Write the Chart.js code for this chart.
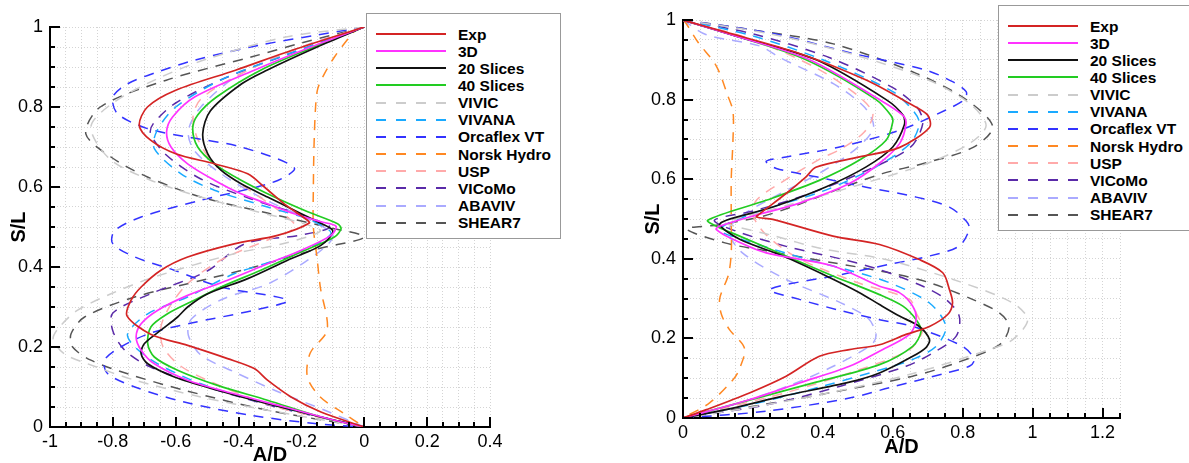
<!DOCTYPE html>
<html>
<head>
<meta charset="utf-8">
<script src="https://cdn.jsdelivr.net/npm/chart.js@4.4.1/dist/chart.umd.min.js"></script>
<style>
  html, body { margin: 0; padding: 0; background: #fff; }
  #wrap { position: relative; width: 1189px; height: 463px; overflow: hidden; }
  canvas { position: absolute; top: 0; }
  .legend {
    position: absolute; background: #fff; border: 1.5px solid #999;
    font: bold 15.5px "Liberation Sans", Arial, Helvetica, sans-serif; color: #000;
  }
  .legend .row { position: absolute; left: 0; height: 17px; width: 100%; }
  .legend .sample { position: absolute; left: 9px; width: 70px; height: 2px; top: 7.5px; }
  .legend .name { position: absolute; left: 91px; top: 0; line-height: 17px; white-space: nowrap; }
</style>
</head>
<body>
<div id="wrap">
  <canvas id="leftChart" width="595" height="463" style="left:0"></canvas>
  <canvas id="rightChart" width="594" height="463" style="left:595px"></canvas>
  <div id="leftLegend" class="legend" style="left:366px;top:13px;width:193px;height:224px"></div>
  <div id="rightLegend" class="legend" style="left:998px;top:5px;width:200px;height:224px"></div>
</div>
<script>
// === SERIES ===
const seriesNames = ["Exp", "3D", "20 Slices", "40 Slices", "VIVIC", "VIVANA", "Orcaflex VT",
                     "Norsk Hydro", "USP", "VICoMo", "ABAVIV", "SHEAR7"];
const lineColors = ["#d42424", "#ff33ff", "#111111", "#22cc22", "#cccccc", "#1aaaff", "#3333ff",
                    "#ff8822", "#ffaaaa", "#5a2aa8", "#aaaaff", "#555555"];
const dashed = [false, false, false, false, true, true, true, true, true, true, true, true];

// === LEFT PANEL: [A/D, S/L] ===
const leftExp = [[0,1],[-0.23,0.942],[-0.41,0.892],[-0.60,0.842],[-0.69,0.80],[-0.716,0.754],[-0.68,0.717],
  [-0.60,0.683],[-0.477,0.658],[-0.371,0.633],[-0.318,0.60],[-0.255,0.558],[-0.19,0.522],[-0.175,0.51],
  [-0.276,0.479],[-0.414,0.458],[-0.562,0.425],[-0.647,0.392],[-0.71,0.35],[-0.742,0.317],[-0.755,0.278],
  [-0.68,0.232],[-0.562,0.204],[-0.435,0.171],[-0.35,0.146],[-0.308,0.117],[-0.233,0.075],[-0.138,0.0375],[0,0]];
const left3D = [[0,1],[-0.17,0.95],[-0.35,0.892],[-0.54,0.825],[-0.61,0.775],[-0.629,0.738],[-0.615,0.70],
  [-0.562,0.658],[-0.477,0.617],[-0.392,0.583],[-0.308,0.558],[-0.223,0.533],[-0.138,0.513],[-0.09,0.502],
  [-0.106,0.479],[-0.2,0.442],[-0.308,0.408],[-0.435,0.367],[-0.562,0.329],[-0.657,0.292],[-0.71,0.258],
  [-0.726,0.225],[-0.71,0.192],[-0.668,0.158],[-0.562,0.117],[-0.414,0.083],[-0.254,0.05],[-0.095,0.017],[0,0]];
const left20 = [[0,1],[-0.15,0.95],[-0.31,0.892],[-0.39,0.858],[-0.49,0.79],[-0.514,0.733],[-0.498,0.683],
  [-0.456,0.642],[-0.392,0.608],[-0.308,0.575],[-0.223,0.542],[-0.148,0.513],[-0.1,0.49],[-0.138,0.454],
  [-0.244,0.417],[-0.371,0.371],[-0.498,0.333],[-0.562,0.30],[-0.594,0.275],[-0.647,0.242],[-0.70,0.208],
  [-0.71,0.183],[-0.689,0.158],[-0.604,0.125],[-0.467,0.092],[-0.308,0.058],[-0.138,0.025],[0,0]];
const left40 = [[0,1],[-0.16,0.95],[-0.33,0.892],[-0.47,0.825],[-0.53,0.78],[-0.546,0.746],[-0.53,0.70],
  [-0.477,0.658],[-0.392,0.617],[-0.286,0.575],[-0.18,0.538],[-0.085,0.508],[-0.074,0.496],[-0.095,0.475],
  [-0.2,0.438],[-0.329,0.392],[-0.456,0.35],[-0.551,0.313],[-0.626,0.283],[-0.679,0.25],[-0.689,0.208],
  [-0.668,0.175],[-0.594,0.142],[-0.467,0.104],[-0.308,0.067],[-0.138,0.025],[0,0]];
const leftVIVIC = [[0,1],[-0.25,0.975],[-0.5,0.92],[-0.66,0.87],[-0.80,0.81],[-0.87,0.75],[-0.81,0.67],
  [-0.68,0.617],[-0.52,0.575],[-0.35,0.54],[-0.2,0.51],[-0.14,0.49],[-0.25,0.46],[-0.414,0.433],[-0.668,0.375],
  [-0.806,0.333],[-0.912,0.292],[-0.97,0.25],[-0.99,0.22],[-0.955,0.183],[-0.88,0.158],[-0.73,0.117],
  [-0.52,0.075],[-0.308,0.042],[0,0]];
const leftVIVANA = [[0,1],[-0.25,0.93],[-0.45,0.87],[-0.6,0.8],[-0.66,0.74],[-0.668,0.696],[-0.583,0.633],
  [-0.477,0.592],[-0.308,0.55],[-0.17,0.517],[-0.106,0.483],[-0.223,0.433],[-0.414,0.383],[-0.562,0.325],
  [-0.689,0.283],[-0.753,0.233],[-0.73,0.2],[-0.657,0.158],[-0.52,0.108],[-0.308,0.058],[0,0]];
const leftOrcaflex = [[0,1],[-0.15,0.98],[-0.33,0.955],[-0.54,0.917],[-0.66,0.887],[-0.753,0.858],[-0.8,0.825],
  [-0.785,0.783],[-0.69,0.746],[-0.562,0.725],[-0.392,0.70],[-0.223,0.648],[-0.286,0.613],[-0.52,0.567],
  [-0.71,0.525],[-0.795,0.49],[-0.8,0.458],[-0.73,0.425],[-0.605,0.392],[-0.456,0.35],[-0.244,0.317],
  [-0.35,0.292],[-0.55,0.26],[-0.68,0.235],[-0.775,0.2],[-0.827,0.167],[-0.816,0.133],[-0.73,0.1],
  [-0.573,0.0625],[-0.36,0.029],[-0.148,0.008],[0,0]];
const leftNorsk = [[-0.01,1],[-0.03,0.99],[-0.064,0.958],[-0.095,0.925],[-0.127,0.883],[-0.148,0.846],
  [-0.155,0.8],[-0.16,0.7],[-0.162,0.6],[-0.162,0.5],[-0.15,0.42],[-0.14,0.35],[-0.118,0.243],[-0.172,0.185],
  [-0.181,0.125],[-0.14,0.075],[-0.067,0.035],[0,0]];
const leftUSP = [[0,1],[-0.2,0.95],[-0.4,0.88],[-0.52,0.82],[-0.545,0.775],[-0.53,0.72],[-0.48,0.66],
  [-0.38,0.6],[-0.27,0.54],[-0.22,0.5],[-0.3,0.47],[-0.45,0.42],[-0.56,0.36],[-0.62,0.3],[-0.647,0.25],
  [-0.64,0.2],[-0.58,0.15],[-0.45,0.1],[-0.28,0.05],[0,0]];
const leftVICoMo = [[0,1],[-0.25,0.93],[-0.45,0.87],[-0.6,0.81],[-0.67,0.76],[-0.68,0.733],[-0.63,0.68],
  [-0.52,0.62],[-0.36,0.57],[-0.2,0.53],[-0.11,0.5],[-0.2,0.48],[-0.38,0.458],[-0.5,0.39],[-0.68,0.333],
  [-0.8,0.285],[-0.8,0.24],[-0.76,0.19],[-0.68,0.15],[-0.5,0.1],[-0.28,0.05],[0,0]];
const leftABAVIV = [[0,1],[-0.2,0.95],[-0.4,0.88],[-0.52,0.8],[-0.56,0.74],[-0.54,0.69],[-0.45,0.63],
  [-0.32,0.57],[-0.18,0.52],[-0.1,0.48],[-0.14,0.44],[-0.3,0.36],[-0.45,0.32],[-0.55,0.27],[-0.56,0.23],
  [-0.52,0.18],[-0.42,0.14],[-0.28,0.09],[-0.12,0.04],[0,0]];
const leftSHEAR7 = [[0,1],[-0.2,0.96],[-0.36,0.925],[-0.63,0.867],[-0.84,0.80],[-0.886,0.733],[-0.806,0.675],
  [-0.69,0.625],[-0.52,0.575],[-0.308,0.535],[-0.12,0.5],[0,0.475],[-0.15,0.445],[-0.35,0.40],[-0.5,0.37],
  [-0.73,0.325],[-0.89,0.275],[-0.933,0.233],[-0.928,0.2],[-0.87,0.167],[-0.753,0.133],[-0.573,0.092],
  [-0.308,0.042],[0,0]];

// === RIGHT PANEL: [A/D, S/L] ===
const rightExp = [[0,1],[0.12,0.97],[0.333,0.916],[0.524,0.849],[0.648,0.79],[0.70,0.761],[0.705,0.73],
  [0.62,0.68],[0.505,0.656],[0.38,0.63],[0.352,0.606],[0.295,0.564],[0.219,0.513],[0.21,0.505],[0.257,0.499],
  [0.429,0.457],[0.562,0.436],[0.676,0.398],[0.743,0.365],[0.762,0.323],[0.771,0.289],[0.757,0.26],
  [0.705,0.23],[0.638,0.21],[0.562,0.184],[0.476,0.172],[0.39,0.155],[0.295,0.105],[0.19,0.063],[0.067,0.021],[0,0]];
const right3D = [[0,1],[0.15,0.96],[0.362,0.9],[0.562,0.8],[0.63,0.76],[0.638,0.74],[0.62,0.69],[0.562,0.64],
  [0.476,0.589],[0.333,0.54],[0.19,0.505],[0.105,0.482],[0.095,0.474],[0.143,0.449],[0.238,0.415],
  [0.429,0.382],[0.562,0.331],[0.619,0.315],[0.657,0.281],[0.667,0.247],[0.648,0.21],[0.562,0.168],
  [0.476,0.13],[0.333,0.088],[0.19,0.046],[0,0]];
const right20 = [[0,1],[0.15,0.96],[0.381,0.9],[0.581,0.8],[0.63,0.76],[0.633,0.736],[0.60,0.681],
  [0.524,0.631],[0.41,0.581],[0.257,0.53],[0.124,0.497],[0.105,0.485],[0.162,0.449],[0.286,0.407],
  [0.41,0.357],[0.505,0.315],[0.562,0.285],[0.619,0.256],[0.676,0.23],[0.705,0.197],[0.695,0.177],
  [0.657,0.155],[0.562,0.113],[0.476,0.09],[0.286,0.055],[0.143,0.025],[0,0]];
const right40 = [[0,1],[0.15,0.96],[0.352,0.9],[0.552,0.8],[0.595,0.76],[0.60,0.744],[0.581,0.698],
  [0.505,0.648],[0.39,0.597],[0.238,0.547],[0.071,0.497],[0.1,0.48],[0.162,0.457],[0.295,0.407],
  [0.429,0.357],[0.562,0.31],[0.629,0.281],[0.667,0.247],[0.681,0.218],[0.657,0.18],[0.562,0.134],
  [0.381,0.09],[0.19,0.045],[0,0]];
const rightVIVIC = [[0,1],[0.25,0.965],[0.5,0.91],[0.7,0.85],[0.82,0.79],[0.867,0.735],[0.82,0.69],
  [0.7,0.64],[0.5,0.585],[0.3,0.535],[0.15,0.5],[0.12,0.49],[0.25,0.46],[0.4,0.425],[0.581,0.398],
  [0.8,0.34],[0.943,0.289],[0.986,0.247],[0.943,0.197],[0.876,0.172],[0.65,0.11],[0.4,0.06],[0.15,0.02],[0,0]];
const rightVIVANA = [[0,1],[0.2,0.96],[0.4,0.9],[0.6,0.82],[0.66,0.77],[0.676,0.74],[0.65,0.69],[0.55,0.63],
  [0.4,0.57],[0.22,0.52],[0.12,0.485],[0.105,0.47],[0.2,0.44],[0.35,0.4],[0.48,0.37],[0.59,0.34],
  [0.705,0.289],[0.752,0.23],[0.724,0.18],[0.657,0.147],[0.6,0.13],[0.4,0.08],[0.2,0.035],[0,0]];
const rightOrcaflex = [[0,1],[0.257,0.966],[0.486,0.916],[0.695,0.874],[0.771,0.845],[0.81,0.82],[0.805,0.8],
  [0.752,0.774],[0.62,0.723],[0.448,0.681],[0.295,0.656],[0.238,0.645],[0.267,0.627],[0.381,0.606],
  [0.524,0.58],[0.667,0.555],[0.762,0.53],[0.81,0.495],[0.819,0.475],[0.79,0.432],[0.705,0.407],
  [0.59,0.386],[0.45,0.36],[0.248,0.323],[0.333,0.298],[0.45,0.27],[0.562,0.247],[0.657,0.23],[0.8,0.18],
  [0.833,0.147],[0.819,0.13],[0.752,0.113],[0.59,0.076],[0.476,0.05],[0.238,0.017],[0,0]];
const rightNorsk = [[0,1],[0.01,0.99],[0.043,0.944],[0.095,0.885],[0.128,0.81],[0.143,0.77],[0.143,0.7],
  [0.138,0.6],[0.138,0.5],[0.138,0.415],[0.13,0.36],[0.105,0.3],[0.11,0.26],[0.133,0.222],[0.176,0.175],
  [0.16,0.12],[0.143,0.096],[0.076,0.038],[0,0]];
const rightUSP = [[0,1],[0.2,0.95],[0.38,0.88],[0.5,0.81],[0.543,0.765],[0.52,0.72],[0.45,0.675],[0.39,0.65],
  [0.276,0.589],[0.21,0.547],[0.2,0.51],[0.238,0.46],[0.333,0.4],[0.5,0.34],[0.648,0.298],[0.667,0.264],
  [0.686,0.222],[0.648,0.172],[0.5,0.12],[0.3,0.065],[0.12,0.025],[0,0]];
const rightVICoMo = [[0,1],[0.2,0.965],[0.42,0.905],[0.6,0.83],[0.67,0.78],[0.686,0.74],[0.65,0.68],
  [0.52,0.62],[0.35,0.56],[0.2,0.52],[0.09,0.497],[0.15,0.47],[0.3,0.43],[0.45,0.4],[0.562,0.373],
  [0.686,0.331],[0.752,0.298],[0.79,0.256],[0.781,0.205],[0.714,0.163],[0.638,0.13],[0.45,0.08],[0.25,0.035],[0,0]];
const rightABAVIV = [[0,1],[0.067,0.963],[0.219,0.935],[0.276,0.906],[0.43,0.84],[0.52,0.78],[0.545,0.73],
  [0.5,0.68],[0.4,0.62],[0.27,0.56],[0.17,0.51],[0.13,0.47],[0.17,0.415],[0.295,0.348],[0.45,0.29],
  [0.53,0.25],[0.552,0.21],[0.54,0.185],[0.43,0.13],[0.3,0.08],[0.15,0.035],[0,0]];
const rightSHEAR7 = [[0,1],[0.2,0.975],[0.43,0.94],[0.667,0.866],[0.81,0.8],[0.886,0.732],[0.83,0.68],
  [0.69,0.64],[0.57,0.614],[0.43,0.57],[0.31,0.53],[0.22,0.505],[0.1,0.485],[0.01,0.475],[0.12,0.44],
  [0.238,0.42],[0.429,0.39],[0.59,0.365],[0.705,0.34],[0.828,0.298],[0.905,0.264],[0.933,0.23],
  [0.905,0.184],[0.78,0.138],[0.657,0.105],[0.43,0.065],[0.238,0.035],[0,0]];

const leftSeries = [leftExp, left3D, left20, left40, leftVIVIC, leftVIVANA, leftOrcaflex,
                    leftNorsk, leftUSP, leftVICoMo, leftABAVIV, leftSHEAR7];
const rightSeries = [rightExp, right3D, right20, right40, rightVIVIC, rightVIVANA, rightOrcaflex,
                     rightNorsk, rightUSP, rightVICoMo, rightABAVIV, rightSHEAR7];

const FONT = '"Liberation Sans", Arial, Helvetica, sans-serif';

// label only every 0.2, the rest of the 0.05 steps are minor ticks
function tickLabel(v) {
    const r = Math.round(v * 100) / 100;
    return Math.abs(r * 5 - Math.round(r * 5)) < 1e-6 ? String(r) : "";
}
function isMajor(v) {
    return Math.abs(v * 5 - Math.round(v * 5)) < 1e-6;
}

// tick marks pointing into the plot, drawn on top of everything
const innerTicks = {
    id: "innerTicks",
    afterDraw(chart) {
        const ctx = chart.ctx;
        const a = chart.chartArea;
        const xs = chart.scales.x;
        const ys = chart.scales.y;
        ctx.save();
        ctx.setLineDash([]);
        ctx.strokeStyle = "#000000";
        ctx.lineWidth = 2;
        for (let i = 0; i < xs.ticks.length; i++) {
            const v = xs.ticks[i].value;
            const px = Math.round(xs.getPixelForValue(v));
            const len = isMajor(v) ? 10 : 5;
            ctx.beginPath();
            ctx.moveTo(px, a.bottom);
            ctx.lineTo(px, a.bottom - len);
            ctx.stroke();
        }
        for (let i = 0; i < ys.ticks.length; i++) {
            const v = ys.ticks[i].value;
            const py = Math.round(ys.getPixelForValue(v));
            const len = isMajor(v) ? 10 : 5;
            ctx.beginPath();
            ctx.moveTo(a.left, py);
            ctx.lineTo(a.left + len, py);
            ctx.stroke();
        }
        ctx.restore();
    }
};

function makeDatasets(series) {
    return series.map((pts, i) => ({
        label: seriesNames[i],
        data: pts.map(p => ({ x: p[0], y: p[1] })),
        showLine: true,
        borderColor: lineColors[i],
        borderWidth: dashed[i] ? 1.5 : 1.7,
        borderDash: dashed[i] ? [10, 8] : [],
        pointRadius: 0,
        tension: 0.3,
        fill: false
    }));
}

function buildChart(id, series, o) {
    const gridOpts = { color: "#d4d4d4", lineWidth: 1, drawTicks: false };
    const borderOpts = { color: "#000", width: 2, dash: [1, 2] };
    return new Chart(document.getElementById(id), {
        type: "scatter",
        data: { datasets: makeDatasets(series) },
        options: {
            responsive: false,
            animation: false,
            events: [],
            layout: { padding: { top: o.padTop, right: o.padRight, left: 0, bottom: 0 } },
            plugins: { legend: { display: false }, tooltip: { enabled: false } },
            scales: {
                x: {
                    type: "linear", min: o.xMin, max: o.xMax,
                    afterFit: s => { s.height = o.xHeight; },
                    grid: gridOpts, border: borderOpts,
                    ticks: { stepSize: 0.05, autoSkip: false, maxRotation: 0, padding: 4,
                             color: "#000", font: { family: FONT, size: 18 }, callback: tickLabel },
                    title: { display: true, text: "A/D", color: "#000",
                             font: { family: FONT, size: 20, weight: "bold", lineHeight: 0.8 },
                             padding: { top: 0, bottom: o.xTitlePad } }
                },
                y: {
                    type: "linear", min: 0, max: 1,
                    afterFit: s => { s.width = o.yWidth; },
                    grid: gridOpts, border: borderOpts,
                    ticks: { stepSize: 0.05, autoSkip: false, padding: 7,
                             color: "#000", font: { family: FONT, size: 18 }, callback: tickLabel },
                    title: { display: true, text: "S/L", color: "#000",
                             font: { family: FONT, size: 20, weight: "bold", lineHeight: 0.8 },
                             padding: { top: o.yTitlePad, bottom: 0 } }
                }
            }
        },
        plugins: [innerTicks]
    });
}

// === LEGEND BOXES ===
function buildLegend(id) {
    const box = document.getElementById(id);
    seriesNames.forEach((name, i) => {
        const row = document.createElement("div");
        row.className = "row";
        row.style.top = (11.5 + i * 17.15) + "px";
        const sample = document.createElement("div");
        sample.className = "sample";
        sample.style.background = dashed[i]
            ? `repeating-linear-gradient(to right, ${lineColors[i]} 0 10px, transparent 10px 20px)`
            : lineColors[i];
        const label = document.createElement("span");
        label.className = "name";
        label.textContent = name;
        row.appendChild(sample);
        row.appendChild(label);
        box.appendChild(row);
    });
}

buildChart("leftChart", leftSeries, {
    xMin: -1, xMax: 0.4, padTop: 27, padRight: 105, yWidth: 50, xHeight: 36, xTitlePad: 0, yTitlePad: 11
});
buildChart("rightChart", rightSeries, {
    xMin: 0, xMax: 1.25, padTop: 20, padRight: 69, yWidth: 88, xHeight: 45, xTitlePad: 8, yTitlePad: 50
});
buildLegend("leftLegend");
buildLegend("rightLegend");
</script>
</body>
</html>
